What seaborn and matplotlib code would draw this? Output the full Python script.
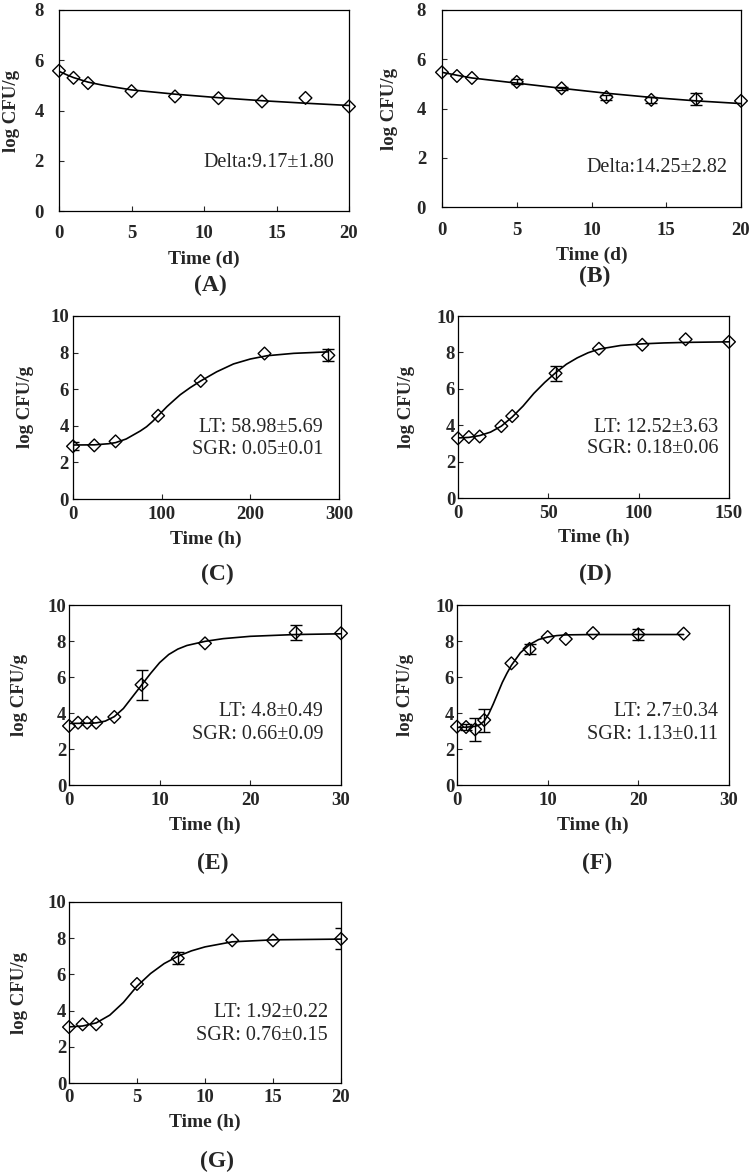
import matplotlib
matplotlib.use('Agg')
import matplotlib.pyplot as plt
import seaborn as sns
import numpy as np

sns.set_theme(style='ticks')
plt.rcParams['font.family'] = ['Liberation Serif', 'DejaVu Serif']

# --- data ---
# (A) survival, days
a_t = [0, 1, 2, 5, 8, 11, 14, 17, 20]
a_y = [5.58, 5.30, 5.09, 4.77, 4.56, 4.49, 4.36, 4.50, 4.16]
a_err = [0, 0, 0, 0, 0, 0, 0, 0, 0]
a_fit_t = [0, 0.5, 1, 2, 3, 5, 8, 11, 14, 17, 20]
a_fit_y = [5.56, 5.43, 5.31, 5.13, 5.01, 4.82, 4.65, 4.51, 4.39, 4.29, 4.20]

# (B) survival, days
b_t = [0, 1, 2, 5, 8, 11, 14, 17, 20]
b_y = [5.47, 5.32, 5.24, 5.08, 4.82, 4.46, 4.35, 4.38, 4.31]
b_err = [0, 0, 0, 0.10, 0.05, 0.10, 0.12, 0.23, 0]
b_fit_t = [0, 1, 2, 5, 8, 11, 14, 17, 20]
b_fit_y = [5.47, 5.35, 5.24, 5.03, 4.82, 4.62, 4.45, 4.31, 4.20]

# (C) growth, hours
c_t = [0, 24, 48, 96, 144, 216, 288]
c_y = [2.88, 2.93, 3.15, 4.55, 6.45, 7.95, 7.85]
c_err = [0.22, 0, 0, 0, 0, 0, 0.32]
c_fit_t = [0, 24, 40, 48, 60, 68, 76, 83, 90, 96, 106, 114, 121, 132, 144, 162, 181, 200, 219, 249, 288]
c_fit_y = [2.95, 2.96, 3.02, 3.08, 3.28, 3.50, 3.72, 3.95, 4.25, 4.55, 5.05, 5.40, 5.70, 6.08, 6.45, 6.95, 7.38, 7.65, 7.83, 7.96, 8.04]

# (D) growth, hours
d_t = [0, 6, 12, 24, 30, 54, 78, 102, 126, 150]
d_y = [3.28, 3.35, 3.38, 3.95, 4.50, 6.85, 8.20, 8.42, 8.72, 8.58]
d_err = [0, 0, 0, 0, 0, 0.40, 0, 0, 0, 0]
d_fit_t = [0, 6, 12, 18, 24, 30, 36, 42, 48, 54, 60, 66, 72, 78, 90, 102, 114, 126, 150]
d_fit_y = [3.30, 3.33, 3.43, 3.62, 3.95, 4.45, 5.05, 5.75, 6.35, 6.88, 7.35, 7.70, 7.98, 8.18, 8.38, 8.47, 8.52, 8.55, 8.58]

# (E) growth, hours
e_t = [0, 1, 2, 3, 5, 8, 15, 25, 30]
e_y = [3.28, 3.46, 3.46, 3.46, 3.78, 5.57, 7.87, 8.46, 8.43]
e_err = [0, 0, 0, 0, 0, 0.84, 0, 0.43, 0]
e_fit_t = [0, 2, 3, 4, 5, 6, 7, 8, 9, 10, 11, 12, 13, 15, 17, 20, 25, 30]
e_fit_y = [3.42, 3.43, 3.45, 3.55, 3.80, 4.25, 4.90, 5.55, 6.20, 6.80, 7.25, 7.55, 7.75, 7.98, 8.13, 8.26, 8.36, 8.40]

# (F) growth, hours
f_t = [0, 1, 2, 3, 6, 8, 10, 12, 15, 20, 25]
f_y = [3.24, 3.22, 3.09, 3.61, 6.76, 7.56, 8.22, 8.11, 8.44, 8.37, 8.41]
f_err = [0, 0.15, 0.64, 0.64, 0, 0.27, 0, 0, 0, 0.30, 0]
f_fit_t = [0, 1, 2, 2.5, 3, 3.5, 4, 4.5, 5, 5.5, 6, 7, 8, 9, 10, 11, 12, 15, 20, 25]
f_fit_y = [3.20, 3.21, 3.26, 3.35, 3.55, 3.95, 4.50, 5.10, 5.70, 6.20, 6.65, 7.35, 7.80, 8.08, 8.22, 8.30, 8.34, 8.36, 8.36, 8.36]

# (G) growth, hours
g_t = [0, 1, 2, 5, 8, 12, 15, 20]
g_y = [3.09, 3.24, 3.24, 5.47, 6.89, 7.88, 7.88, 7.96]
g_err = [0, 0, 0, 0, 0.34, 0, 0, 0.58]
g_fit_t = [0, 1, 2, 3, 4, 4.5, 5, 6, 7, 8, 9, 10, 12, 15, 20]
g_fit_y = [3.10, 3.15, 3.32, 3.75, 4.45, 4.90, 5.35, 6.05, 6.60, 7.00, 7.30, 7.52, 7.80, 7.91, 7.95]

W, H = 751, 1175
fig = plt.figure(figsize=(W / 100, H / 100), dpi=100)

panels = [
    dict(t=a_t, y=a_y, err=a_err, ft=a_fit_t, fy=a_fit_y, box=(59, 10, 349, 211),
         xt=[0, 5, 10, 15, 20], yt=[0, 2, 4, 6, 8], xl='Time (d)',
         txt=['Delta:9.17\u00b11.80'], tpos=[(0.95, 0.24)], xpad=10, ypad=11,
         xlab_y=259, ylab_x=11, tag='(A)', tag_xy=(210, 285)),
    dict(t=b_t, y=b_y, err=b_err, ft=b_fit_t, fy=b_fit_y, box=(442, 10, 741, 207),
         xt=[0, 5, 10, 15, 20], yt=[0, 2, 4, 6, 8], xl='Time (d)',
         txt=['Delta:14.25\u00b12.82'], tpos=[(0.955, 0.20)], xpad=10.5, ypad=11.5,
         xlab_y=255, ylab_x=390, tag='(B)', tag_xy=(595, 276)),
    dict(t=c_t, y=c_y, err=c_err, ft=c_fit_t, fy=c_fit_y, box=(73, 316, 339, 499),
         xt=[0, 100, 200, 300], yt=[0, 2, 4, 6, 8, 10], xl='Time (h)',
         txt=['LT: 58.98\u00b15.69', 'SGR: 0.05\u00b10.01'], tpos=[(0.94, 0.39), (0.94, 0.27)],
         xpad=5, ypad=3, xlab_y=539, ylab_x=25, tag='(C)', tag_xy=(217, 574)),
    dict(t=d_t, y=d_y, err=d_err, ft=d_fit_t, fy=d_fit_y, box=(458, 316, 729, 498),
         xt=[0, 50, 100, 150], yt=[0, 2, 4, 6, 8, 10], xl='Time (h)',
         txt=['LT: 12.52\u00b13.63', 'SGR: 0.18\u00b10.06'], tpos=[(0.96, 0.39), (0.96, 0.27)],
         xpad=5, ypad=2, xlab_y=537, ylab_x=407, tag='(D)', tag_xy=(595, 574)),
    dict(t=e_t, y=e_y, err=e_err, ft=e_fit_t, fy=e_fit_y, box=(69, 605, 341, 785),
         xt=[0, 10, 20, 30], yt=[0, 2, 4, 6, 8, 10], xl='Time (h)',
         txt=['LT: 4.8\u00b10.49', 'SGR: 0.66\u00b10.09'], tpos=[(0.935, 0.41), (0.935, 0.28)],
         xpad=5, ypad=2, xlab_y=825, ylab_x=20, tag='(E)', tag_xy=(213, 863)),
    dict(t=f_t, y=f_y, err=f_err, ft=f_fit_t, fy=f_fit_y, box=(457, 605, 729, 785),
         xt=[0, 10, 20, 30], yt=[0, 2, 4, 6, 8, 10], xl='Time (h)',
         txt=['LT: 2.7\u00b10.34', 'SGR: 1.13\u00b10.11'], tpos=[(0.96, 0.41), (0.96, 0.28)],
         xpad=5, ypad=2, xlab_y=825, ylab_x=405, tag='(F)', tag_xy=(597, 863)),
    dict(t=g_t, y=g_y, err=g_err, ft=g_fit_t, fy=g_fit_y, box=(69, 902, 341, 1083),
         xt=[0, 5, 10, 15, 20], yt=[0, 2, 4, 6, 8, 10], xl='Time (h)',
         txt=['LT: 1.92\u00b10.22', 'SGR: 0.76\u00b10.15'], tpos=[(0.952, 0.39), (0.952, 0.26)],
         xpad=4.5, ypad=2, xlab_y=1122, ylab_x=20, tag='(G)', tag_xy=(217, 1161)),
]

for p in panels:
    l, t, r, b = p['box']
    ax = fig.add_axes([l / W, 1 - b / H, (r - l) / W, (b - t) / H])

    # fitted curve
    sns.lineplot(x=p['ft'], y=p['fy'], ax=ax, color='black', lw=1.2, sort=True,
                 estimator=None, zorder=2)
    # error bars
    err = np.array(p['err'])
    m = err > 0
    if m.any():
        ax.errorbar(np.array(p['t'])[m], np.array(p['y'])[m], yerr=err[m], fmt='none',
                    ecolor='black', elinewidth=1, capsize=4.5, capthick=1, zorder=4)
    # observed points
    sns.scatterplot(x=p['t'], y=p['y'], ax=ax, marker='D', s=42, color='white',
                    edgecolor='black', linewidth=1.0, zorder=3, clip_on=False)
    ax.collections[-1].set_facecolor('none')

    ax.set_xlim(p['xt'][0], p['xt'][-1])
    ax.set_ylim(p['yt'][0], p['yt'][-1])
    ax.set_xticks(p['xt'])
    ax.set_yticks(p['yt'])
    ax.tick_params(direction='in', length=3.5, width=0.8, top=False, right=False,
                   labelsize=13.5)
    ax.tick_params(axis='x', pad=p['xpad'])
    ax.tick_params(axis='y', pad=p['ypad'])
    for lab in ax.get_xticklabels() + ax.get_yticklabels():
        lab.set_fontweight('bold')
    for sp in ax.spines.values():
        sp.set_visible(True)
        sp.set_linewidth(0.9)
        sp.set_color('black')

    ax.set_xlabel(p['xl'], fontsize=14, fontweight='bold', va='center')
    ax.xaxis.set_label_coords(0.5, -(p['xlab_y'] - b) / (b - t))
    ax.set_ylabel('log CFU/g', fontsize=13.5, fontweight='bold', va='center', ha='center')
    ax.yaxis.set_label_coords((p['ylab_x'] - l) / (r - l), 0.5)

    for s, (tx, ty) in zip(p['txt'], p['tpos']):
        ax.text(tx, ty, s, transform=ax.transAxes, ha='right', va='center', fontsize=14.5)

    fig.text(p['tag_xy'][0] / W, 1 - p['tag_xy'][1] / H, p['tag'], ha='center', va='center',
             fontsize=17, fontweight='bold')

fig.savefig('out.png', dpi=100, facecolor='white')
